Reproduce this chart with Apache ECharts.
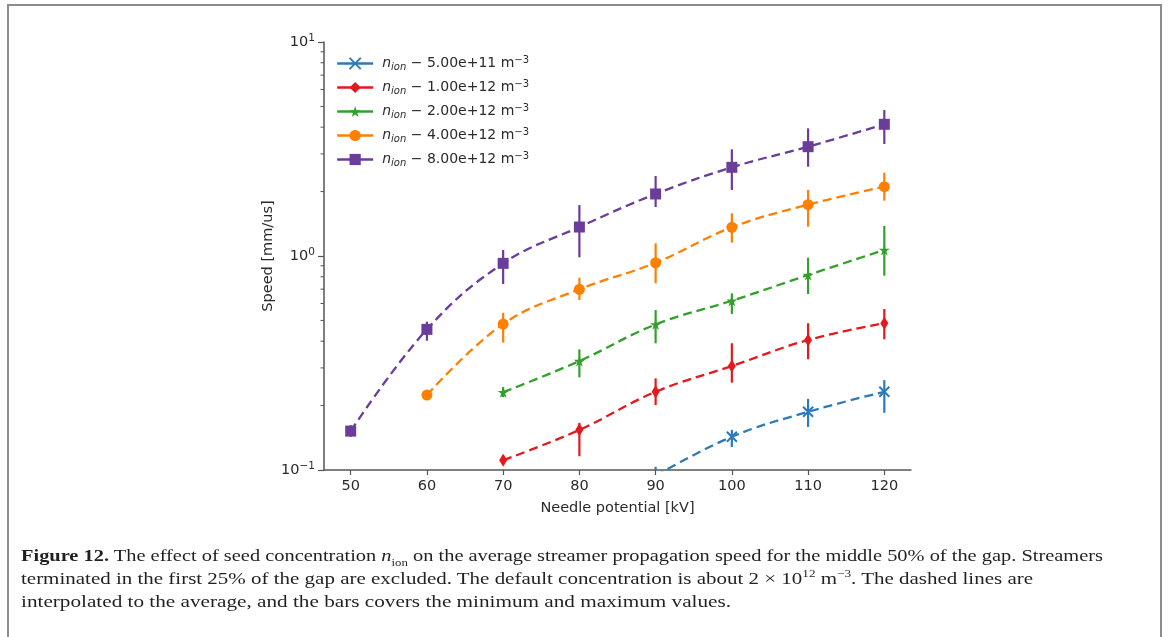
<!DOCTYPE html>
<html>
<head>
<meta charset="utf-8">
<script src="https://cdn.jsdelivr.net/npm/echarts@6/dist/echarts.min.js"></script>
<style>
  html, body { margin: 0; padding: 0; background: #fff; }
  #wrap { position: relative; width: 1168px; height: 637px; overflow: hidden; }
  #chart { position: absolute; left: 0; top: 0; width: 1168px; height: 637px; }
  #frame { position: absolute; left: 7px; top: 4px; width: 1155px; height: 640px;
           border-top: 2px solid #8c8c8c; border-left: 2px solid #8c8c8c; border-right: 2px solid #8c8c8c; box-sizing: border-box; }
  #caption { position: absolute; left: 21px; top: 544px; font-family: "Liberation Serif", "DejaVu Serif", serif;
             font-size: 17.5px; line-height: 23px; color: #231f20; }
  #caption .ln { display: block; white-space: nowrap; transform-origin: 0 0; width: max-content; }
  #caption sub, #caption sup { font-size: 11px; line-height: 0; }
</style>
</head>
<body>
<div id="wrap">
  <div id="frame"></div>
  <div id="chart"></div>
  <div id="caption">
    <span class="ln" data-w="1082"><b>Figure 12.</b> The effect of seed concentration <i>n</i><sub>ion</sub> on the average streamer propagation speed for the middle 50% of the gap. Streamers</span>
    <span class="ln" data-w="1012">terminated in the first 25% of the gap are excluded. The default concentration is about 2 × 10<sup>12</sup> m<sup>−3</sup>. The dashed lines are</span>
    <span class="ln" data-w="710">interpolated to the average, and the bars covers the minimum and maximum values.</span>
  </div>
</div>
<script>
// ---------------- data ----------------
const potentials = [50, 60, 70, 80, 90, 100, 110, 120];
const seriesNames = ['5.00e+11', '1.00e+12', '2.00e+12', '4.00e+12', '8.00e+12'];

const mean_5e11 = [null, null, null, null, 0.094, 0.143, 0.187, 0.232];
const min_5e11  = [null, null, null, null, 0.085, 0.128, 0.159, 0.185];
const max_5e11  = [null, null, null, null, 0.1035, 0.154, 0.215, 0.263];

const mean_1e12 = [null, null, 0.111, 0.154, 0.232, 0.306, 0.405, 0.485];
const min_1e12  = [null, null, 0.106, 0.116, 0.201, 0.256, 0.329, 0.408];
const max_1e12  = [null, null, 0.117, 0.166, 0.268, 0.391, 0.485, 0.565];

const mean_2e12 = [null, null, 0.231, 0.323, 0.479, 0.618, 0.815, 1.067];
const min_2e12  = [null, null, 0.219, 0.271, 0.391, 0.536, 0.664, 0.809];
const max_2e12  = [null, null, 0.244, 0.366, 0.559, 0.669, 0.982, 1.381];

const mean_4e12 = [null, 0.224, 0.481, 0.699, 0.930, 1.362, 1.737, 2.108];
const min_4e12  = [null, 0.213, 0.394, 0.623, 0.745, 1.154, 1.371, 1.813];
const max_4e12  = [null, 0.231, 0.543, 0.792, 1.146, 1.583, 2.034, 2.451];

const mean_8e12 = [0.152, 0.454, 0.924, 1.366, 1.949, 2.597, 3.242, 4.125];
const min_8e12  = [0.143, 0.402, 0.740, 0.986, 1.694, 2.034, 2.614, 3.337];
const max_8e12  = [0.162, 0.493, 1.067, 1.730, 2.365, 3.152, 3.950, 4.810];

const xTickLabels = [50, 60, 70, 80, 90, 100, 110, 120];
const yMinorTicks = [0.2, 0.3, 0.4, 0.5, 0.6, 0.7, 0.8, 0.9, 2, 3, 4, 5, 6, 7, 8, 9];

// ---------------- styling ----------------
const means = [mean_5e11, mean_1e12, mean_2e12, mean_4e12, mean_8e12];
const mins  = [min_5e11, min_1e12, min_2e12, min_4e12, min_8e12];
const maxs  = [max_5e11, max_1e12, max_2e12, max_4e12, max_8e12];
const colors = ['#2b7bba', '#e3191c', '#33a02c', '#ff7f00', '#6a3d9a'];
const symbols = [
  'path://M0,0L10,10M10,0L0,10',
  'path://M3,0L6,5L3,10L0,5Z',
  'path://M50,0L61,35L98,35L68,57L79,91L50,70L21,91L32,57L2,35L39,35Z',
  'circle',
  'rect'
];
const symbolSizes = [10, [8, 13], 11, 11, 11];
const FONT = 'DejaVu Sans';
const AX = '#555';
const TXT = '#2a2a2a';

const chart = echarts.init(document.getElementById('chart'), null, { renderer: 'canvas' });

const series = [];
const legendNames = [];
seriesNames.forEach((nm, k) => {
  const name = 'n' + k;
  legendNames.push(name);
  const pts = potentials.map((x, i) => [x, means[k][i]]).filter(p => p[1] != null);
  const bars = potentials.map((x, i) => [x, mins[k][i], maxs[k][i]]).filter(p => p[1] != null);
  series.push({
    type: 'custom',
    name: name + '_err',
    clip: true,
    z: 2,
    data: bars,
    encode: { x: 0, y: [1, 2] },
    renderItem: (params, api) => {
      const p1 = api.coord([api.value(0), api.value(1)]);
      const p2 = api.coord([api.value(0), api.value(2)]);
      return { type: 'line', shape: { x1: p1[0], y1: p1[1], x2: p2[0], y2: p2[1] },
               style: { stroke: colors[k], lineWidth: 2.2 } };
    }
  });
  series.push({
    type: 'line',
    name: name,
    data: pts,
    smooth: 0.4,
    clip: true,
    z: 3,
    symbol: symbols[k],
    symbolSize: symbolSizes[k],
    showSymbol: true,
    lineStyle: { color: colors[k], width: 2.3, type: [9, 5] },
    itemStyle: { color: k === 0 ? 'rgba(0,0,0,0)' : colors[k], borderColor: colors[k], borderWidth: k === 0 ? 2 : 0 },
    emphasis: { disabled: true }
  });
});

// minor log ticks on the y axis
series.push({
  type: 'custom',
  name: 'minor',
  clip: false,
  silent: true,
  data: yMinorTicks.map(v => [v]),
  encode: { y: 0 },
  renderItem: (params, api) => {
    const left = params.coordSys.x;
    const p = api.coord([xTickLabels[0], api.value(0)]);
    return { type: 'line', shape: { x1: left - 3.5, y1: p[1], x2: left, y2: p[1] },
             style: { stroke: AX, lineWidth: 1 } };
  }
});

const legendLabels = {};
seriesNames.forEach((nm, k) => { legendLabels['n' + k] = nm; });

chart.setOption({
  animation: false,
  backgroundColor: 'transparent',
  grid: { left: 324, right: 257, top: 42, bottom: 167, containLabel: false },
  legend: {
    data: legendNames,
    orient: 'vertical',
    left: 336, top: 55,
    padding: 0,
    itemWidth: 36, itemHeight: 14, itemGap: 7,
    selectedMode: false,
    lineStyle: { type: 'solid', width: 2.3 },
    textStyle: {
      fontFamily: FONT, fontSize: 14, color: TXT, padding: [0, 0, 0, 4],
      rich: {
        n: { fontFamily: FONT, fontSize: 14, fontStyle: 'italic', color: TXT },
        sb: { fontFamily: FONT, fontSize: 10, fontStyle: 'italic', color: TXT, verticalAlign: 'bottom', padding: [6, 0, 0, 0] },
        t: { fontFamily: FONT, fontSize: 14, color: TXT },
        sp: { fontFamily: FONT, fontSize: 10, color: TXT, verticalAlign: 'top', padding: [0, 0, 7, 0] }
      }
    },
    formatter: (name) => '{n|n}{sb|ion}{t| − ' + legendLabels[name] + ' m}{sp|−3}'
  },
  xAxis: {
    type: 'value',
    min: 46.5, max: 123.5,
    name: 'Needle potential [kV]',
    nameLocation: 'middle',
    nameGap: 31,
    nameMoveOverlap: false,
    nameTextStyle: { fontFamily: FONT, fontSize: 14.5, color: TXT },
    axisLine: { show: true, lineStyle: { color: AX, width: 1.5 } },
    axisTick: { show: true, length: 5, customValues: xTickLabels, lineStyle: { color: AX, width: 1.2 } },
    axisLabel: { customValues: xTickLabels, fontFamily: FONT, fontSize: 14.5, color: TXT, margin: 9 },
    splitLine: { show: false }
  },
  yAxis: {
    type: 'log',
    logBase: 10,
    min: 0.1, max: 10,
    name: 'Speed [mm/us]',
    nameLocation: 'middle',
    nameGap: 48,
    nameMoveOverlap: false,
    nameTextStyle: { fontFamily: FONT, fontSize: 14.5, color: TXT },
    axisLine: { show: true, lineStyle: { color: AX, width: 1.5 } },
    axisTick: { show: true, length: 6, lineStyle: { color: AX, width: 1.2 } },
    axisLabel: {
      fontFamily: FONT, fontSize: 14.5, color: TXT, margin: 9,
      formatter: (v) => '{b|10}{e|' + String(Math.round(Math.log10(v))).replace('-', '−') + '}',
      rich: {
        b: { fontFamily: FONT, fontSize: 14.5, color: TXT },
        e: { fontFamily: FONT, fontSize: 10.5, color: TXT, verticalAlign: 'top', padding: [0, 0, 7, 0] }
      }
    },
    splitLine: { show: false },
    minorTick: { show: false }
  },
  series: series
});

// fit caption lines to their measured widths
document.querySelectorAll('#caption .ln').forEach(el => {
  const target = +el.dataset.w;
  const w = el.getBoundingClientRect().width;
  if (w > 0) el.style.transform = 'scaleX(' + (target / w) + ')';
});
</script>
</body>
</html>
